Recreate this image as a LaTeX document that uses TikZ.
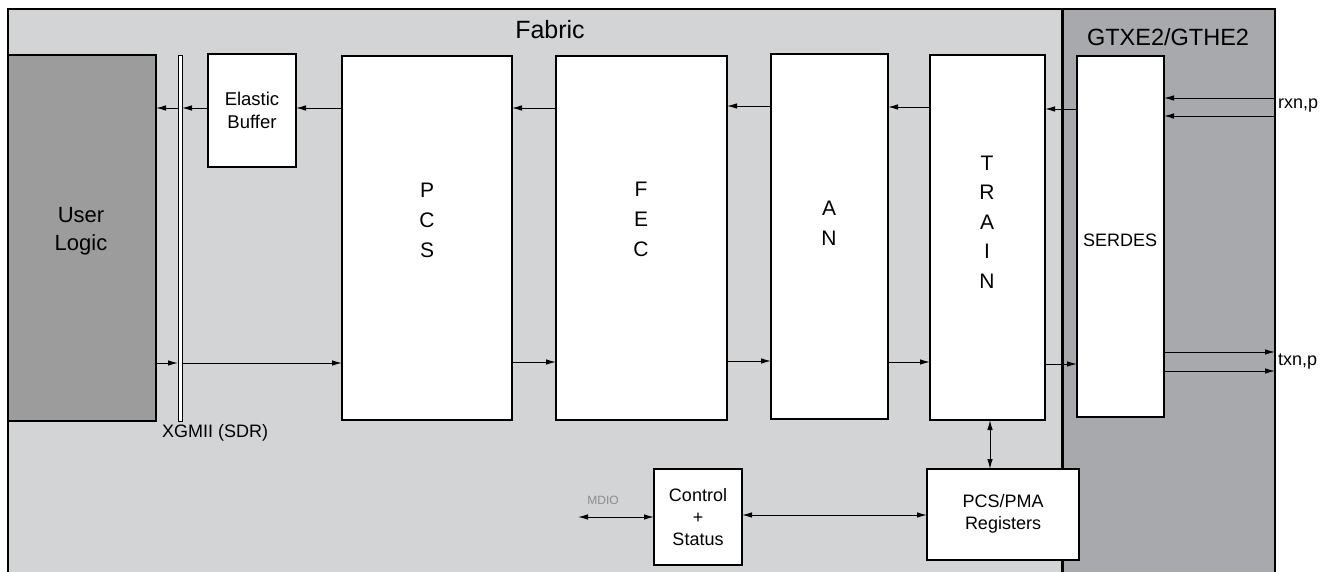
\documentclass[tikz,border=0pt]{standalone}
\usepackage{fontspec}
\setmainfont{Liberation Sans}
\usetikzlibrary{arrows.meta}
\definecolor{fabricgray}{RGB}{211,212,214}
\definecolor{gtxgray}{RGB}{168,169,172}
\definecolor{usergray}{RGB}{156,156,156}
\definecolor{mdiogray}{RGB}{140,140,140}
\begin{document}
\begin{tikzpicture}[x=1pt,y=-1pt,
  box/.style={draw=black,line width=2.2pt,fill=white,anchor=north west,inner sep=0pt,outer sep=0pt},
  arr/.style={line width=1pt,-{Latex[length=10pt,width=5.5pt]}},
  darr/.style={line width=1pt,{Latex[length=10pt,width=5.5pt]}-{Latex[length=10pt,width=5.5pt]}},
  lbl/.style={align=center,inner sep=0pt,font=\fontsize{18}{22}\selectfont},
  col/.style={align=center,inner sep=0pt,font=\fontsize{21}{30}\selectfont}]
\useasboundingbox (0,0) rectangle (1332,571);
\clip (0,0) rectangle (1332,571);
% regions
\fill[fabricgray] (8,9) rectangle (1062,590);
\fill[gtxgray] (1062,9) rectangle (1275,590);
\draw[line width=2.5pt] (8,590) -- (8,9) -- (1275,9) -- (1275,590);
\draw[line width=3pt] (1062,9) -- (1062,590);
\node[font=\fontsize{25}{28}\selectfont, inner sep=0pt] (fabric) at (550,30) {Fabric};
\node[font=\fontsize{23.5}{26}\selectfont, inner sep=0pt] (gtx) at (1168,37) {GTXE2/GTHE2};
% boxes
\node[box, fill=usergray, minimum width=148, minimum height=366] (user) at (8,55) {};
\node[col, font=\fontsize{22}{28}\selectfont] (userlbl) at (81,231) {User\\Logic};
\node[box, line width=0.8pt, minimum width=4, minimum height=366] (xgmii) at (178,55) {};
\node[lbl, anchor=west] (xgmiilbl) at (162,433) {XGMII (SDR)};
\node[box, minimum width=88, minimum height=113] (eb) at (208,54) {};
\node[lbl, font=\fontsize{18.5}{23}\selectfont] (eblbl) at (eb.center) {Elastic\\Buffer};
\node[box, minimum width=170, minimum height=364] (pcs) at (342,56) {};
\node[col] (pcslbl) at (427,220) {P\\C\\S};
\node[box, minimum width=171, minimum height=364] (fec) at (556,56) {};
\node[col] (feclbl) at (641,219) {F\\E\\C};
\node[box, minimum width=117, minimum height=365] (an) at (771,54) {};
\node[col] (anlbl) at (829,223) {A\\N};
\node[box, minimum width=115, minimum height=365] (train) at (930,55) {};
\node[col, font=\fontsize{21}{29.5}\selectfont] (trainlbl) at (987,222) {T\\R\\A\\I\\N};
\node[box, minimum width=87, minimum height=361] (serdes) at (1077,56) {};
\node[lbl] (serdeslbl) at (1120,240) {SERDES};
\node[box, minimum width=88, minimum height=96] (ctrl) at (654,469) {};
\node[lbl] (ctrllbl) at (ctrl.center) {Control\\+\\Status};
\node[box, minimum width=152, minimum height=91] (reg) at (927,469) {};
\node[lbl] (reglbl) at ([yshift=1]reg.center) {PCS/PMA\\Registers};
% external pins
\coordinate (rx1) at (1275,98);
\coordinate (rx2) at (1275,116);
\coordinate (tx1) at (1275,352);
\coordinate (tx2) at (1275,371);
\coordinate (mdio) at (578,517);
\node[lbl, anchor=west] (rxlbl) at (1278,106) {rxn,p};
\node[lbl, anchor=west] (txlbl) at (1278,362) {txn,p};
\node[inner sep=0pt, font=\fontsize{12}{14}\selectfont, text=mdiogray] (mdiolbl) at (603,500) {MDIO};
% receive path (right to left)
\draw[arr] (rx1) -- (serdes.east |- rx1);
\draw[arr] (rx2) -- (serdes.east |- rx2);
\draw[arr] (serdes.west |- 0,109) -- (train.east |- 0,109);
\draw[arr] (train.west |- 0,107) -- (an.east |- 0,107);
\draw[arr] (an.west |- 0,106) -- (fec.east |- 0,106);
\draw[arr] (fec.west |- 0,108) -- (pcs.east |- 0,108);
\draw[arr] (pcs.west |- 0,108) -- (eb.east |- 0,108);
\draw[arr] (eb.west |- 0,108) -- (xgmii.east |- 0,108);
\draw[arr] (xgmii.west |- 0,108) -- (user.east |- 0,108);
% transmit path (left to right)
\draw[arr] (user.east |- 0,363) -- (xgmii.west |- 0,363);
\draw[arr] (xgmii.east |- 0,363) -- (pcs.west |- 0,363);
\draw[arr] (pcs.east |- 0,362) -- (fec.west |- 0,362);
\draw[arr] (fec.east |- 0,361) -- (an.west |- 0,361);
\draw[arr] (an.east |- 0,362) -- (train.west |- 0,362);
\draw[arr] (train.east |- 0,364) -- (serdes.west |- 0,364);
\draw[arr] (serdes.east |- tx1) -- (tx1);
\draw[arr] (serdes.east |- tx2) -- (tx2);
% control
\draw[darr] (train.south -| 990,0) -- (reg.north -| 990,0);
\draw[darr] (ctrl.east |- 0,515) -- (reg.west |- 0,515);
\draw[darr] (mdio) -- (ctrl.west |- mdio);
\end{tikzpicture}
\end{document}
